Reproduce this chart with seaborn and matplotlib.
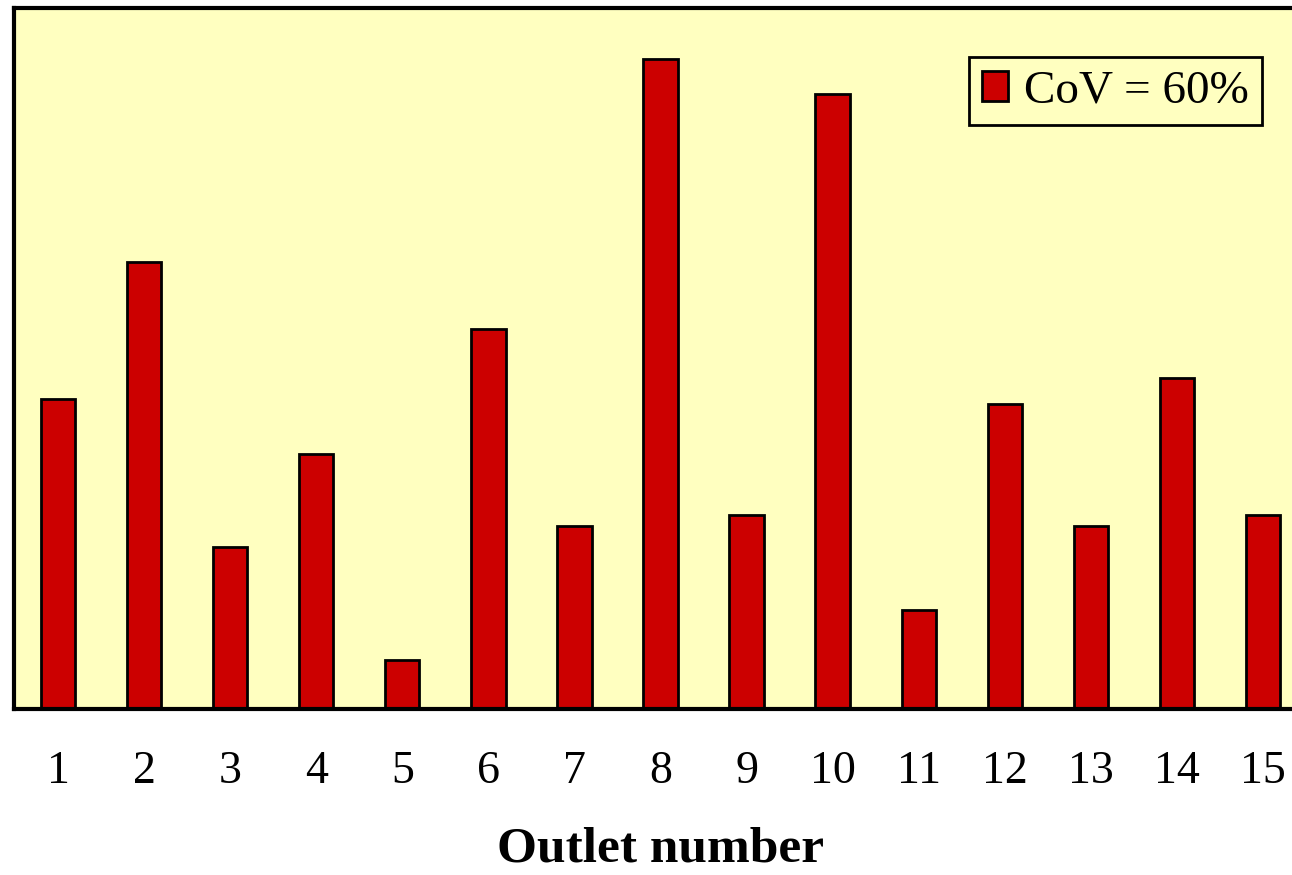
import matplotlib
matplotlib.use("Agg")
import matplotlib.pyplot as plt
import seaborn as sns
import pandas as pd

outlets = [str(i) for i in range(1, 16)]
flow = [1.07, 1.54, 0.56, 0.88, 0.17, 1.31, 0.63, 2.24, 0.67, 2.12, 0.34, 1.05, 0.63, 1.14, 0.67]
series_label = "CoV = 60%"

sns.set_theme(style="white")
plt.rcParams['font.family'] = ['Liberation Serif', 'DejaVu Serif']
plt.rcParams['text.color'] = 'black'

W, H = 1292, 875
fig = plt.figure(figsize=(W / 100, H / 100), dpi=100)
ax = fig.add_axes([14 / W, (H - 709) / H, (1307 - 14) / W, (709 - 8) / H])

df = pd.DataFrame({"Outlet": outlets, "Flow": flow, "Series": series_label})
sns.barplot(data=df, x="Outlet", y="Flow", hue="Series", palette=["#CC0000"],
            width=0.4, edgecolor="black", linewidth=2, ax=ax, saturation=1)

ax.set_facecolor("#FFFFC0")
ax.set_xlim(-0.511, 14.511)
ax.set_ylim(0, 2.417)
ax.set_yticks([])
ax.set_ylabel("")
ax.tick_params(axis="x", length=0, pad=30, labelsize=33, colors="black")
ax.set_xlabel("Outlet number", fontsize=37, fontweight="bold", labelpad=24, color="black")
for s in ["left", "top", "bottom"]:
    ax.spines[s].set_visible(True)
    ax.spines[s].set_color("black")
    ax.spines[s].set_linewidth(3)
ax.spines["right"].set_visible(False)

leg = ax.legend(loc="upper right", bbox_to_anchor=((1262 - 14) / (1307 - 14), (709 - 57) / (709 - 8)),
                fontsize=34, frameon=True, fancybox=False, handlelength=0.55, handleheight=0.6,
                handletextpad=0.35, borderpad=0.27, borderaxespad=0, labelcolor="black")
leg.get_frame().set_edgecolor("black")
leg.get_frame().set_linewidth(2)
leg.get_frame().set_facecolor("#FFFFC0")
leg.get_frame().set_alpha(1)

fig.savefig("out.png", dpi=100, facecolor="white")
